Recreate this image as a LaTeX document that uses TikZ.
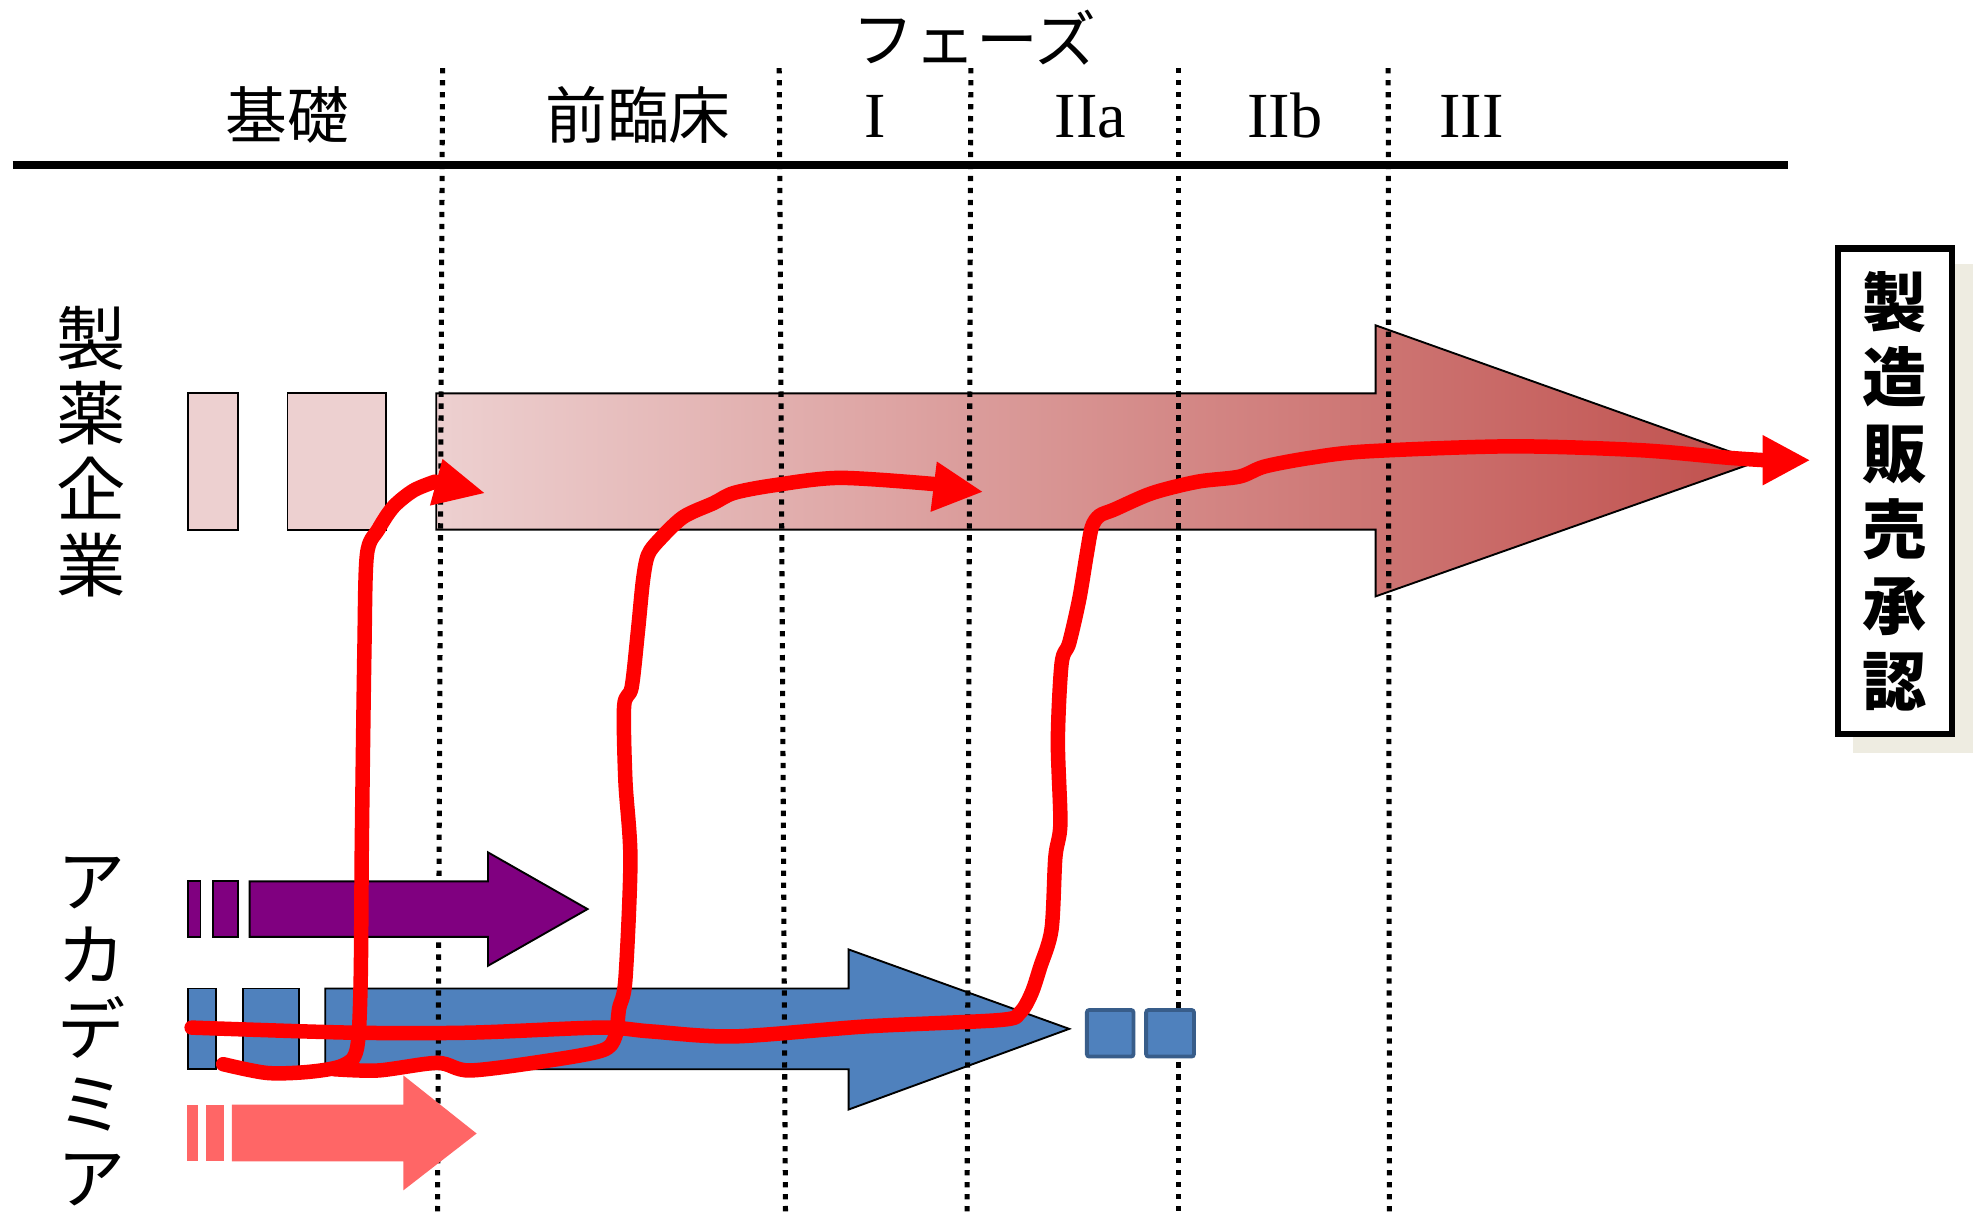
\documentclass[tikz,border=0pt]{standalone}
\usepackage{fontspec}
\setmainfont{Liberation Serif}
\newfontfamily\jp{Noto Sans CJK JP}
\definecolor{pinklight}{RGB}{237,208,208}
\definecolor{pinkdark}{RGB}{192,80,77}
\definecolor{purp}{RGB}{128,0,128}
\definecolor{bluef}{RGB}{79,129,189}
\definecolor{blueb}{RGB}{56,93,138}
\definecolor{salmon}{RGB}{255,102,102}
\definecolor{shadowc}{RGB}{238,236,225}
\definecolor{redl}{RGB}{255,0,0}
\begin{document}
\begin{tikzpicture}[x=1pt,y=-1pt,
  redpath/.style={draw=redl, line width=11.5pt, line cap=round, line join=round},
  redhead/.style={fill=redl},
  dotline/.style={line width=4pt, dash pattern=on 4.2pt off 5.3pt},
  phasejp/.style={font=\jp\fontsize{49}{49}\selectfont},
  phaserom/.style={font=\fontsize{51}{51}\selectfont, anchor=base},
  vlabel/.style={font=\jp\fontsize{55}{60}\selectfont, align=center},
  shapeout/.style={draw=black, line width=1.5pt},
  sq/.style={draw=blueb, fill=bluef, line width=3pt, rounded corners=2pt}]
\useasboundingbox (0,0) rectangle (1568,964);
\fill[white] (0,0) rectangle (1568,964);

% header
\node[font=\jp\fontsize{49}{49}\selectfont] (phase) at (773,30) {フェーズ};
\coordinate (hl) at (10,131);
\coordinate (hr) at (1418,131);
\draw[line width=6pt] (hl) -- (hr);
\node[phasejp] (kiso) at (228,91) {基礎};
\node[phasejp] (zenrin) at (506,91) {前臨床};
\node[phaserom] (p1) at (694,109) {I};
\node[phaserom] (p2a) at (865,109) {IIa};
\node[phaserom] (p2b) at (1019,109) {IIb};
\node[phaserom] (p3) at (1167,109) {III};

% left labels
\node[vlabel] (seiyaku) at (72,358) {製\\薬\\企\\業};
\node[vlabel, font=\jp\fontsize{54}{59}\selectfont] (academia) at (73,818) {ア\\カ\\デ\\ミ\\ア};

% pharma row
\path[shapeout, fill=pinklight] (149,312) rectangle (189,420);
\path[shapeout, fill=pinklight] (228,312) rectangle (306,420);
\path[shapeout, left color=pinklight, right color=pinkdark]
  (346,312) -- (1091,312) -- (1091,258) -- (1394,366) -- (1091,473) -- (1091,420) -- (346,420) -- cycle;

% blue row
\path[shapeout, fill=bluef] (149,784) rectangle (171,848);
\path[shapeout, fill=bluef] (193,784) rectangle (237,848);
\path[shapeout, fill=bluef]
  (258,784) -- (673,784) -- (673,753) -- (848,816) -- (673,880) -- (673,848) -- (258,848) -- cycle;

% dotted phase separators
\draw[dotline] (351,54) -- (347,964);
\draw[dotline] (618,54) -- (623,964);
\draw[dotline] (770,54) -- (767,964);
\draw[dotline] (935,54) -- (935,964);
\draw[dotline] (1101,54) -- (1102,964);

% purple row
\path[shapeout, fill=purp] (149,699) rectangle (159,743);
\path[shapeout, fill=purp] (169,699) rectangle (189,743);
\path[shapeout, fill=purp]
  (198,699) -- (387,699) -- (387,676) -- (466,721) -- (387,766) -- (387,743) -- (198,743) -- cycle;

% salmon row
\fill[salmon] (148,876) rectangle (157,921);
\fill[salmon] (163,876) rectangle (178,921);
\fill[salmon]
  (184,876) -- (320,876) -- (320,853) -- (378,899) -- (320,944) -- (320,921) -- (184,921) -- cycle;

% blue squares
\path[sq] (862,801) rectangle (899,838);
\path[sq] (909,801) rectangle (947,838);

% approval box
\fill[shadowc] (1470,209) rectangle (1565,597);
\node[draw, line width=5pt, fill=white, minimum width=90pt, minimum height=385pt,
  align=center, font=\jp\bfseries\fontsize{51}{60.2}\selectfont] (approval) at (1503,389.5)
  {製\\造\\販\\売\\承\\認};

% red hand-drawn paths
\coordinate (tipA) at (384,391);
\coordinate (tipB) at (779,390);
\coordinate (tipC) at (1435,365);
\draw[redpath] plot[smooth, tension=0.5] coordinates {
  (177,844) (212,851) (246,850) (272,845) (283,832) (286,780) (287,666)
  (289,516) (291,440) (300,420) (312,402) (328,389) (345,382)};
\fill[redhead] (351,364) -- (tipA) -- (341,401) -- cycle;

\draw[redpath] plot[smooth, tension=0.5] coordinates {
  (265,848) (300,849) (347,843) (373,849) (436,841) (478,833) (488,822)
  (491,800) (496,777) (500,682) (496,619) (495,560) (501,545) (506,500)
  (510,460) (514,440) (523,428) (542,410) (566,399) (582,391) (613,385)
  (666,379) (742,384)};
\fill[redhead] (743,366) -- (tipB) -- (738,406) -- cycle;

\draw[redpath] plot[smooth, tension=0.5] coordinates {
  (152,815) (278,819) (373,819) (476,815) (516,818) (582,822) (688,814)
  (793,809) (809,803) (818,788) (825,767) (834,737) (837,680) (841,653)
  (839,587) (842,526) (848,510) (856,475) (862,439) (866,418) (872,409)
  (884,404) (914,391) (950,382) (983,378) (1003,370) (1040,363) (1084,358)
  (1198,354) (1300,357) (1370,363) (1400,365)};
\fill[redhead] (1398,345) -- (tipC) -- (1398,385) -- cycle;
\end{tikzpicture}
\end{document}
